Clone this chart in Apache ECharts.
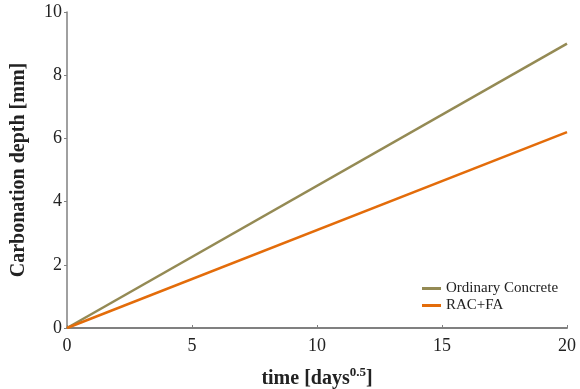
<!DOCTYPE html>
<html><head><meta charset="utf-8">
<script src="https://cdn.jsdelivr.net/npm/echarts@6/dist/echarts.min.js"></script>
<style>html,body{margin:0;padding:0;background:#fff}#c{width:580px;height:389px}</style>
</head><body><div id="c"></div>
<script>
const times = [0, 20];
const ordinaryConcrete = [0, 9.0];
const racFa = [0, 6.2];
const seriesNames = ['Ordinary Concrete', 'RAC+FA'];
const xTicks = [0, 5, 10, 15, 20];
const yTicks = [0, 2, 4, 6, 8, 10];

const chart = echarts.init(document.getElementById('c'));
const font = 'Liberation Serif';
chart.setOption({
  animation: false,
  backgroundColor: '#fff',
  grid: {left: 67, right: 13, top: 12, bottom: 61, containLabel: false, outerBoundsMode: 'none'},
  legend: {
    data: seriesNames, orient: 'vertical', left: 417, top: 276,
    itemWidth: 19, itemHeight: 3, itemGap: 2,
    icon: 'rect',
    textStyle: {fontFamily: font, fontSize: 15, color: '#222'}
  },
  xAxis: {
    type: 'value', min: 0, max: 20, interval: 5,
    name: '{a|time [days}{b|0.5}{a|]}', nameLocation: 'middle', nameGap: 38,
    nameTextStyle: {rich: {
      a: {fontFamily: font, fontSize: 20, fontWeight: 'bold', color: '#222', verticalAlign: 'bottom'},
      b: {fontFamily: font, fontSize: 13, fontWeight: 'bold', color: '#222', verticalAlign: 'top', padding: [0,0,10,0]}
    }},
    axisLine: {show: true, lineStyle: {color: '#808080', width: 2}},
    axisTick: {show: true, inside: true, length: 3, lineStyle: {color: '#808080'}},
    axisLabel: {fontFamily: font, fontSize: 18, color: '#222', margin: 9},
    splitLine: {show: false}
  },
  yAxis: {
    type: 'value', min: 0, max: 10, interval: 2,
    name: 'Carbonation depth [mm]', nameLocation: 'middle', nameGap: 38,
    nameTextStyle: {fontFamily: font, fontSize: 20, fontWeight: 'bold', color: '#222'},
    axisLine: {show: true, lineStyle: {color: '#808080', width: 1.5}},
    axisTick: {show: true, inside: false, length: 3, lineStyle: {color: '#808080'}},
    axisLabel: {fontFamily: font, fontSize: 18, color: '#222', margin: 5},
    splitLine: {show: false}
  },
  series: [
    {name: seriesNames[0], type: 'line', symbol: 'none', color: '#948a54',
     lineStyle: {width: 2.5, color: '#948a54'},
     data: times.map((t, i) => [t, ordinaryConcrete[i]])},
    {name: seriesNames[1], type: 'line', symbol: 'none', color: '#e36c0a',
     lineStyle: {width: 2.5, color: '#e36c0a'},
     data: times.map((t, i) => [t, racFa[i]])}
  ]
});
</script></body></html>
